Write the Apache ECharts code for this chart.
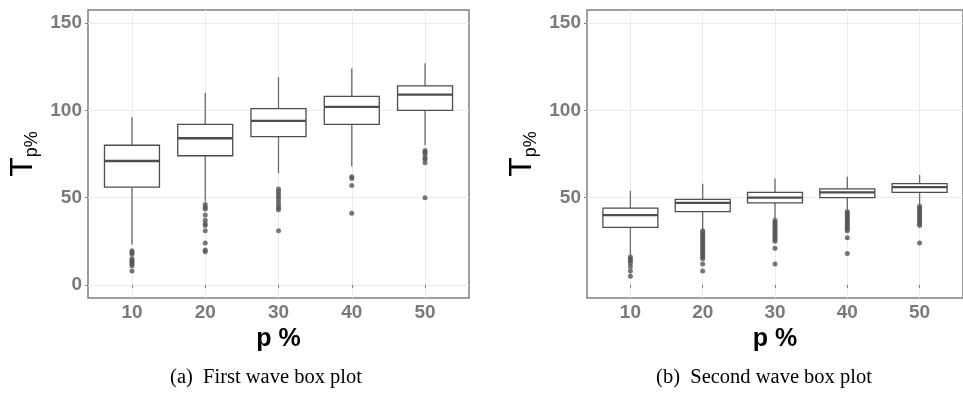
<!DOCTYPE html>
<html>
<head>
<meta charset="utf-8">
<script src="https://cdn.jsdelivr.net/npm/echarts@6/dist/echarts.min.js"></script>
<style>
  html, body { margin: 0; padding: 0; background: #fff; }
  #main { width: 963px; height: 393px; }
</style>
</head>
<body>
<div id="main"></div>
<script>
// x categories (p %)
var cats = [10, 20, 30, 40, 50];
var yTicksA = [0, 50, 100, 150];
var yTicksB = [50, 100, 150];

// first wave box stats
var w1Low = [23, 48, 64, 68, 80];
var w1Q1 = [56, 74, 85, 92, 100];
var w1Med = [71, 84, 94, 102, 109];
var w1Q3 = [80, 92, 101, 108, 114];
var w1High = [96, 110, 119, 124, 127];
var w1Out = [
    [19.5, 18.5, 17.5, 15, 14, 13, 12, 11, 8],
    [46, 44.5, 43.5, 40, 37, 35, 34, 31, 24, 20, 19],
    [55, 53.5, 52, 50.5, 49, 47, 45.5, 44, 43, 31],
    [62, 61, 57, 41],
    [77, 76, 75, 73, 72, 70, 50]
];

// second wave box stats
var w2Low = [17, 32, 38, 43, 46];
var w2Q1 = [33, 42, 47, 50, 53];
var w2Med = [40, 47, 50, 53, 56];
var w2Q3 = [44, 49, 53, 55, 58];
var w2High = [54, 58, 61, 62, 63];
var w2Out = [
    [16, 15, 14, 12.5, 10.5, 8, 5],
    [31, 30, 29, 28, 27, 26, 25, 24, 23, 22, 21, 20, 19, 18, 17, 16, 15, 12, 8],
    [37, 36, 35, 34, 33, 32, 31, 30, 29, 28, 27, 26, 25, 21, 12],
    [42, 41, 40, 39, 38, 37, 36, 35, 34, 33, 32, 31, 27, 18],
    [45, 44, 43, 42, 41, 40, 39, 38, 37, 36, 35, 34, 24]
];

var labelGrey = '#7a7a7a';
var lineGrey = '#4d4d4d';

function boxRows(low, q1, med, q3, high) {
    return cats.map(function (c, i) {
        return [c, low[i], q1[i], med[i], q3[i], high[i]];
    });
}
function outRows(out) {
    var rows = [];
    out.forEach(function (list, i) {
        list.forEach(function (v) { rows.push([cats[i], v]); });
    });
    return rows;
}

// ggplot style box: no caps on whiskers, thick median
function renderBox(params, api) {
    var x = api.value(0);
    var pLow = api.coord([x, api.value(1)]);
    var pQ1 = api.coord([x, api.value(2)]);
    var pMed = api.coord([x, api.value(3)]);
    var pQ3 = api.coord([x, api.value(4)]);
    var pHigh = api.coord([x, api.value(5)]);
    var hw = 27.5;
    return {
        type: 'group',
        children: [
            { type: 'line', shape: { x1: pLow[0], y1: pLow[1], x2: pQ1[0], y2: pQ1[1] },
              style: { stroke: '#6a6a6a', lineWidth: 1.3 } },
            { type: 'line', shape: { x1: pQ3[0], y1: pQ3[1], x2: pHigh[0], y2: pHigh[1] },
              style: { stroke: '#6a6a6a', lineWidth: 1.3 } },
            { type: 'rect', shape: { x: pQ3[0] - hw, y: pQ3[1], width: hw * 2, height: pQ1[1] - pQ3[1] },
              style: { fill: '#fff', stroke: lineGrey, lineWidth: 1.3 } },
            { type: 'line', shape: { x1: pMed[0] - hw, y1: pMed[1], x2: pMed[0] + hw, y2: pMed[1] },
              style: { stroke: lineGrey, lineWidth: 2.4 } }
        ]
    };
}

function xAxisOf(idx) {
    return {
        type: 'value', gridIndex: idx, min: 4, max: 56,
        splitNumber: 5, minInterval: 10, maxInterval: 10,
        name: 'p %', nameLocation: 'middle', nameGap: 28,
        nameTextStyle: { fontFamily: 'Liberation Sans', fontWeight: 'bold', fontSize: 25, color: '#000' },
        axisLine: { show: false },
        axisTick: { show: true, length: 3, customValues: cats, lineStyle: { color: '#7f7f7f' } },
        axisLabel: {
            customValues: cats, margin: 5,
            fontFamily: 'Liberation Sans', fontWeight: 'bold', fontSize: 19, color: labelGrey,
            formatter: function (v) { return cats.indexOf(v) >= 0 ? String(v) : ''; }
        },
        splitLine: { show: true, lineStyle: { color: '#ebebeb', width: 1 } }
    };
}

function yAxisOf(idx, ticks) {
    return {
        type: 'value', gridIndex: idx, min: -7.5, max: 157.5,
        splitNumber: 6, minInterval: 25, maxInterval: 25,
        name: '{t|T}{s|p%}', nameLocation: 'middle', nameGap: 47,
        nameTextStyle: {
            rich: {
                t: { fontFamily: 'Liberation Sans', fontSize: 32, color: '#000', lineHeight: 36 },
                s: { fontFamily: 'Liberation Sans', fontSize: 18, color: '#000', lineHeight: 20, verticalAlign: 'bottom' }
            }
        },
        axisLine: { show: false },
        axisTick: { show: true, length: 3, customValues: ticks, lineStyle: { color: '#7f7f7f' } },
        axisLabel: {
            customValues: ticks, margin: 6,
            fontFamily: 'Liberation Sans', fontWeight: 'bold', fontSize: 19, color: labelGrey,
            formatter: function (v) { return ticks.indexOf(v) >= 0 ? String(v) : ''; }
        },
        splitLine: { show: true, lineStyle: { color: '#ebebeb', width: 1 } }
    };
}

var chart = echarts.init(document.getElementById('main'), null, { renderer: 'canvas' });

var option = {
    backgroundColor: '#fff',
    animation: false,
    title: [
        { text: '(a)  First wave box plot', left: 261, top: 362, textAlign: 'center',
          textStyle: { fontFamily: 'Liberation Serif', fontWeight: 'normal', fontSize: 20.5, color: '#000' } },
        { text: '(b)  Second wave box plot', left: 759, top: 362, textAlign: 'center',
          textStyle: { fontFamily: 'Liberation Serif', fontWeight: 'normal', fontSize: 20.5, color: '#000' } }
    ],
    grid: [
        { left: 88, right: 494, top: 10, bottom: 95, show: true, borderColor: '#7f7f7f', borderWidth: 1.5, backgroundColor: '#fff' },
        { left: 587, right: -5, top: 10, bottom: 95, show: true, borderColor: '#7f7f7f', borderWidth: 1.5, backgroundColor: '#fff' }
    ],
    xAxis: [xAxisOf(0), xAxisOf(1)],
    yAxis: [yAxisOf(0, yTicksA), yAxisOf(1, yTicksB)],
    series: [
        {
            type: 'custom', xAxisIndex: 0, yAxisIndex: 0,
            renderItem: renderBox, encode: { x: 0, y: [1, 2, 3, 4, 5] },
            data: boxRows(w1Low, w1Q1, w1Med, w1Q3, w1High)
        },
        {
            type: 'scatter', xAxisIndex: 0, yAxisIndex: 0, symbolSize: 5,
            itemStyle: { color: '#555' }, data: outRows(w1Out)
        },
        {
            type: 'custom', xAxisIndex: 1, yAxisIndex: 1,
            renderItem: renderBox, encode: { x: 0, y: [1, 2, 3, 4, 5] },
            data: boxRows(w2Low, w2Q1, w2Med, w2Q3, w2High)
        },
        {
            type: 'scatter', xAxisIndex: 1, yAxisIndex: 1, symbolSize: 5,
            itemStyle: { color: '#555' }, data: outRows(w2Out)
        }
    ]
};

chart.setOption(option);
</script>
</body>
</html>
